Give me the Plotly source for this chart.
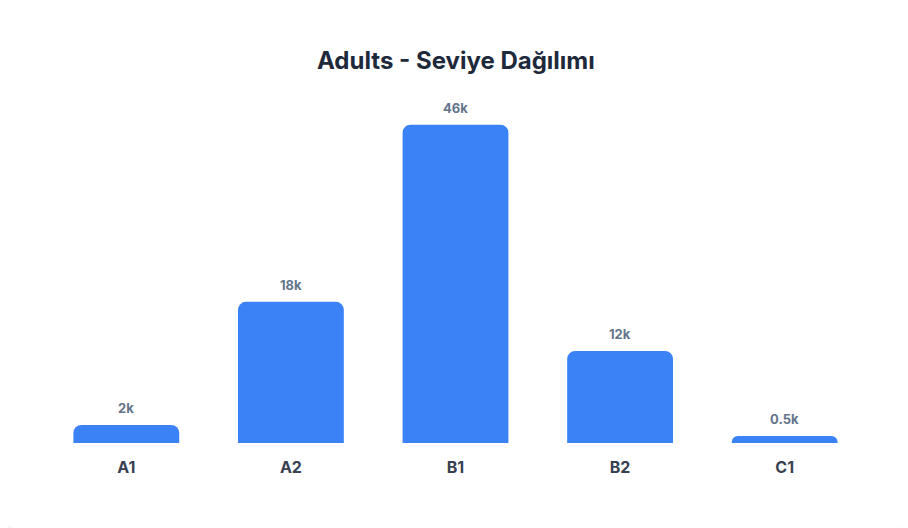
import plotly.graph_objects as go

categories = ["A1", "A2", "B1", "B2", "C1"]
values = [2.6, 20.4, 46.0, 13.3, 1.0]          # bar heights (thousands)
value_labels = ["2k", "18k", "46k", "12k", "0.5k"]
title_text = "Adults - Seviye Dağılımı"

# page body adds an 8px offset, so the figure is sized to fit the window
W, H = 900, 520
L, R, T, B = 36, 41, 89, 85
pw, ph = W - L - R, H - T - B

def fx(px):
    return (px - L) / pw

def fy(py):
    return (H - B - py) / ph

# rounded white card (figure pixel coords)
x0, x1, y0, y1, rad = -6, 901, -8, 521, 20
path = (
    f"M {fx(x0+rad)} {fy(y0)} L {fx(x1-rad)} {fy(y0)} "
    f"Q {fx(x1)} {fy(y0)} {fx(x1)} {fy(y0+rad)} "
    f"L {fx(x1)} {fy(y1-rad)} Q {fx(x1)} {fy(y1)} {fx(x1-rad)} {fy(y1)} "
    f"L {fx(x0+rad)} {fy(y1)} Q {fx(x0)} {fy(y1)} {fx(x0)} {fy(y1-rad)} "
    f"L {fx(x0)} {fy(y0+rad)} Q {fx(x0)} {fy(y0)} {fx(x0+rad)} {fy(y0)} Z"
)

fig = go.Figure()
fig.add_trace(go.Bar(
    x=categories, y=values,
    marker=dict(color="#3b82f6", line=dict(width=0), cornerradius=8),
    hoverinfo="skip",
))

annotations = [
    dict(x=c, y=v, xref="x", yref="y", text=t, showarrow=False,
         yanchor="bottom", yshift=7,
         font=dict(family="Inter", size=13, color="#64748b", weight="bold"))
    for c, v, t in zip(categories, values, value_labels)
]
annotations.append(dict(
    x=0.5, xref="paper", y=fy(53), yref="paper", text=title_text, showarrow=False,
    xanchor="center", yanchor="middle",
    font=dict(family="Inter", size=24, color="#1e293b", weight="bold"),
))

fig.update_layout(
    width=W, height=H,
    margin=dict(l=L, r=R, t=T, b=B),
    paper_bgcolor="#f3f4f6",
    plot_bgcolor="rgba(0,0,0,0)",
    bargap=0.357,
    showlegend=False,
    shapes=[dict(type="path", path=path, xref="paper", yref="paper",
                 fillcolor="#ffffff", line=dict(width=0), layer="below")],
    annotations=annotations,
    xaxis=dict(
        showgrid=False, zeroline=False, showline=False,
        ticks="outside", ticklen=10, tickcolor="rgba(0,0,0,0)",
        tickfont=dict(family="Inter", size=16, color="#374151", weight="bold"),
        fixedrange=True,
    ),
    yaxis=dict(
        range=[0, 50], visible=False, showgrid=False, zeroline=False,
        fixedrange=True,
    ),
)

fig.write_html("out.html", config={"displayModeBar": False})
